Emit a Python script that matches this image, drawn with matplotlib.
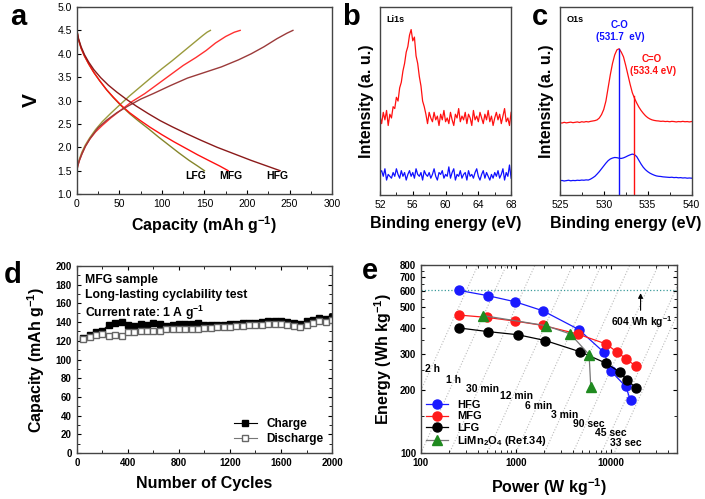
import matplotlib
matplotlib.use("Agg")
import matplotlib.pyplot as plt
from matplotlib.ticker import MultipleLocator, FixedLocator, FixedFormatter, NullFormatter, LogLocator
import numpy as np

plt.rcParams['font.family'] = ['Liberation Sans', 'DejaVu Sans']
plt.rcParams['mathtext.fontset'] = 'custom'
plt.rcParams['mathtext.rm'] = 'Liberation Sans:bold'
plt.rcParams['mathtext.bf'] = 'Liberation Sans:bold'
plt.rcParams['mathtext.default'] = 'bf'
plt.rcParams['xtick.direction'] = 'in'
plt.rcParams['ytick.direction'] = 'in'

# ---- panel a : charge / discharge curves
lfg_ch_cap = [0, 1, 3, 6, 10, 15, 22, 30, 40, 50, 62, 75, 88, 100, 112, 122, 132, 140, 148, 153, 157]
lfg_ch_v = [1.5, 1.62, 1.75, 1.9, 2.05, 2.2, 2.38, 2.55, 2.73, 2.9, 3.1, 3.3, 3.5, 3.68, 3.85, 4.0,
            4.15, 4.27, 4.39, 4.46, 4.5]
mfg_ch_cap = [0, 1, 3, 6, 10, 15, 22, 30, 40, 52, 65, 80, 95, 110, 125, 140, 152, 163, 175, 185, 192]
mfg_ch_v = [1.5, 1.6, 1.72, 1.86, 2.02, 2.17, 2.33, 2.47, 2.63, 2.8, 2.98, 3.15, 3.35, 3.55, 3.75,
            3.92, 4.07, 4.23, 4.37, 4.46, 4.5]
hfg_ch_cap = [0, 1, 3, 6, 10, 16, 25, 35, 47, 60, 75, 90, 110, 130, 150, 170, 190, 205, 220, 235, 247, 254]
hfg_ch_v = [1.5, 1.6, 1.72, 1.86, 2.02, 2.2, 2.42, 2.58, 2.74, 2.88, 3.03, 3.15, 3.32, 3.48, 3.6,
            3.72, 3.87, 4.0, 4.15, 4.32, 4.44, 4.5]
lfg_dc_cap = [0, 2, 5, 9, 14, 20, 27, 35, 43, 52, 62, 72, 84, 96, 108, 120, 132, 142, 150]
lfg_dc_v = [4.5, 4.3, 4.12, 3.95, 3.78, 3.6, 3.42, 3.23, 3.06, 2.89, 2.72, 2.57, 2.4, 2.22, 2.05,
            1.88, 1.72, 1.6, 1.5]
mfg_dc_cap = [0, 2, 5, 9, 14, 20, 27, 35, 43, 52, 62, 74, 86, 100, 114, 128, 142, 156, 168, 178]
mfg_dc_v = [4.5, 4.3, 4.12, 3.95, 3.78, 3.6, 3.42, 3.23, 3.07, 2.9, 2.74, 2.58, 2.43, 2.27, 2.12,
            1.98, 1.84, 1.71, 1.6, 1.5]
hfg_dc_cap = [0, 2, 5, 9, 14, 20, 28, 37, 47, 58, 70, 84, 98, 112, 128, 146, 165, 185, 205, 222, 239]
hfg_dc_v = [4.5, 4.32, 4.15, 3.98, 3.82, 3.66, 3.49, 3.33, 3.18, 3.03, 2.88, 2.72, 2.57, 2.44, 2.3,
            2.15, 2.0, 1.86, 1.72, 1.61, 1.5]

# ---- panel b : Li1s
li_energy = np.linspace(52, 68, 81)
li_red = [0.42, 0.38, 0.44, 0.40, 0.45, 0.37, 0.43, 0.41, 0.47, 0.46,
          0.52, 0.50, 0.57, 0.60, 0.66, 0.70, 0.76, 0.79, 0.85, 0.88,
          0.82, 0.84, 0.74, 0.70, 0.63, 0.58, 0.50, 0.47, 0.43, 0.38,
          0.44, 0.41, 0.39, 0.44, 0.40, 0.42, 0.37, 0.43, 0.40, 0.45,
          0.39, 0.41, 0.38, 0.44, 0.40, 0.37, 0.43, 0.41, 0.46, 0.39,
          0.42, 0.40, 0.44, 0.38, 0.43, 0.41, 0.37, 0.45, 0.40, 0.42,
          0.39, 0.44, 0.41, 0.38, 0.43, 0.40, 0.45, 0.39, 0.42, 0.37,
          0.41, 0.44, 0.40, 0.43, 0.38, 0.42, 0.46, 0.39, 0.41, 0.37, 0.44]
li_blue = [0.12, 0.13, 0.10, 0.14, 0.08, 0.11, 0.10, 0.09, 0.12, 0.10,
           0.14, 0.11, 0.09, 0.13, 0.10, 0.12, 0.08, 0.11, 0.13, 0.10,
           0.12, 0.09, 0.14, 0.11, 0.10, 0.12, 0.08, 0.13, 0.11, 0.10,
           0.12, 0.09, 0.11, 0.14, 0.10, 0.08, 0.12, 0.11, 0.13, 0.09,
           0.11, 0.10, 0.15, 0.09, 0.12, 0.14, 0.08, 0.11, 0.10, 0.13,
           0.09, 0.11, 0.12, 0.08, 0.13, 0.10, 0.11, 0.09, 0.12, 0.14,
           0.10, 0.08, 0.11, 0.13, 0.09, 0.12, 0.10, 0.08, 0.11, 0.09,
           0.12, 0.10, 0.13, 0.09, 0.11, 0.14, 0.08, 0.12, 0.10, 0.16, 0.09]

# ---- panel c : O1s
o_energy = np.linspace(525, 540, 61)
o_red = [0.385, 0.383, 0.387, 0.384, 0.386, 0.388, 0.385, 0.387, 0.389, 0.386,
         0.390, 0.388, 0.391, 0.389, 0.392, 0.394, 0.396, 0.400, 0.410, 0.428,
         0.455, 0.500, 0.570, 0.640, 0.700, 0.745, 0.772, 0.778, 0.760, 0.735,
         0.690, 0.640, 0.590, 0.545, 0.515, 0.490, 0.468, 0.450, 0.435, 0.422,
         0.412, 0.405, 0.400, 0.397, 0.395, 0.394, 0.392, 0.393, 0.391, 0.392,
         0.390, 0.392, 0.391, 0.389, 0.391, 0.390, 0.392, 0.390, 0.391, 0.389, 0.391]
o_blue = [0.076, 0.078, 0.075, 0.077, 0.079, 0.076, 0.078, 0.077, 0.079, 0.078,
          0.080, 0.079, 0.081, 0.080, 0.085, 0.092, 0.100, 0.112, 0.125, 0.140,
          0.155, 0.170, 0.183, 0.192, 0.197, 0.200, 0.199, 0.196, 0.195, 0.198,
          0.203, 0.209, 0.214, 0.218, 0.215, 0.205, 0.185, 0.165, 0.148, 0.135,
          0.125, 0.117, 0.111, 0.106, 0.102, 0.100, 0.099, 0.097, 0.096, 0.095,
          0.094, 0.095, 0.093, 0.094, 0.092, 0.093, 0.091, 0.092, 0.090, 0.091, 0.090]
co_peak = 531.7
cdo_peak = 533.4

# ---- panel d : cycling
cycles = np.arange(50, 2001, 50)
charge = [123, 126, 129, 131, 137, 139, 140, 137, 136, 138, 137, 139, 138, 136, 137,
          138, 138, 138, 139, 137, 137, 137, 137, 138, 138, 139, 139, 139, 140, 141,
          141, 141, 140, 139, 138, 141, 142, 144, 143, 145]
discharge = [122, 124, 126, 127, 125, 126, 125, 129, 129, 130, 130, 131, 131, 133, 133,
             133, 133, 133, 133, 134, 134, 135, 135, 135, 136, 136, 137, 137, 137, 138,
             138, 138, 137, 136, 135, 137, 139, 141, 140, 142]

# ---- panel e : Ragone
hfg_p = [252, 507, 995, 1937, 4625, 8490, 10160, 14420, 16300]
hfg_e = [604, 570, 532, 482, 392, 305, 247, 209, 179]
mfg_p = [250, 499, 995, 1937, 4508, 8990, 11770, 14660, 18530]
mfg_e = [460, 448, 430, 410, 373, 334, 305, 283, 261]
lfg_p = [250, 511, 1054, 2051, 4820, 8990, 12640, 14760, 18710]
lfg_e = [399, 383, 370, 347, 306, 270, 244, 225, 205]
lmo_p = [457, 2083, 3774, 5943, 6191]
lmo_e = [457, 409, 373, 297, 207]
time_h = [2, 1, 0.5, 0.2, 0.1, 0.05, 0.025, 0.0125, 33 / 3600]
time_labels = ['2 h', '1 h', '30 min', '12 min', '6 min', '3 min', '90 sec', '45 sec', '33 sec']
label_p = [133, 223, 450, 1028, 1746, 3258, 5902, 10000, 14660]
label_e = [254, 225, 203, 187, 169, 152, 138, 125, 112]

fig = plt.figure(figsize=(7.05, 4.99), dpi=100)
tick_fs = 7.5
lab_fs = 11.5

def frame(ax):
    for s in ax.spines.values():
        s.set_linewidth(1.0)
        s.set_color('#444444')

# a
ax = fig.add_axes([0.109, 0.611, 0.362, 0.375])
ax.plot(lfg_ch_cap, lfg_ch_v, color='#9a9a3c', lw=1)
ax.plot(lfg_dc_cap, lfg_dc_v, color='#85852a', lw=1)
ax.plot(mfg_ch_cap, mfg_ch_v, color='#ff3030', lw=1)
ax.plot(mfg_dc_cap, mfg_dc_v, color='#ff1010', lw=1)
ax.plot(hfg_ch_cap, hfg_ch_v, color='#9b3a3a', lw=1)
ax.plot(hfg_dc_cap, hfg_dc_v, color='#8b1a1a', lw=1)
for lab, xx in zip(['LFG', 'MFG', 'HFG'], [140, 181, 235]):
    ax.text(xx, 1.38, lab, ha='center', va='center', fontsize=7.5, fontweight='bold')
ax.set_xlim(0, 300)
ax.set_ylim(1.0, 5.0)
ax.xaxis.set_major_locator(MultipleLocator(50))
ax.xaxis.set_minor_locator(MultipleLocator(25))
ax.yaxis.set_major_locator(MultipleLocator(0.5))
ax.yaxis.set_major_formatter(plt.FormatStrFormatter('%.1f'))
ax.tick_params(labelsize=tick_fs, length=3)
ax.tick_params(which='minor', length=2)
ax.set_xlabel('Capacity (mAh g$^{-1}$)', fontsize=lab_fs, fontweight='bold', labelpad=4)
ax.set_ylabel('V', fontsize=15, fontweight='bold', labelpad=12)
frame(ax)

# b
ax = fig.add_axes([0.539, 0.609, 0.186, 0.377])
ax.plot(li_energy, li_red, color='#ff1010', lw=0.9)
ax.plot(li_energy, li_blue, color='#1010ff', lw=0.9)
ax.set_xlim(52, 68)
ax.set_ylim(0, 1)
ax.xaxis.set_major_locator(MultipleLocator(4))
ax.xaxis.set_minor_locator(MultipleLocator(2))
ax.set_yticks([])
ax.tick_params(labelsize=tick_fs, length=3)
ax.tick_params(which='minor', length=2)
ax.text(0.05, 0.96, 'Li1s', transform=ax.transAxes, fontsize=6.5, fontweight='bold', va='top')
ax.set_xlabel('Binding energy (eV)', fontsize=lab_fs, fontweight='bold', labelpad=4)
ax.set_ylabel('Intensity (a. u.)', fontsize=lab_fs, fontweight='bold', labelpad=4)
frame(ax)

# c
ax = fig.add_axes([0.794, 0.609, 0.187, 0.377])
ax.plot(o_energy, o_red, color='#ff1010', lw=0.9)
ax.plot(o_energy, o_blue, color='#1010ff', lw=0.9)
ax.plot([co_peak, co_peak], [0, max(o_red)], color='#1010ff', lw=1)
ax.plot([cdo_peak, cdo_peak], [0, 0.525], color='#ff1010', lw=1)
ax.text(531.8, 0.905, 'C-O', color='#1010ff', ha='center', va='center', fontsize=7, fontweight='bold')
ax.text(531.9, 0.84, '(531.7  eV)', color='#1010ff', ha='center', va='center', fontsize=7, fontweight='bold')
ax.text(535.5, 0.725, 'C=O', color='#ff1010', ha='center', va='center', fontsize=7, fontweight='bold')
ax.text(535.6, 0.66, '(533.4 eV)', color='#ff1010', ha='center', va='center', fontsize=7, fontweight='bold')
ax.text(0.05, 0.96, 'O1s', transform=ax.transAxes, fontsize=6.5, fontweight='bold', va='top')
ax.set_xlim(525, 540)
ax.set_ylim(0, 1)
ax.xaxis.set_major_locator(MultipleLocator(5))
ax.xaxis.set_minor_locator(MultipleLocator(2.5))
ax.set_yticks([])
ax.tick_params(labelsize=tick_fs, length=3)
ax.tick_params(which='minor', length=2)
ax.set_xlabel('Binding energy (eV)', fontsize=lab_fs, fontweight='bold', labelpad=4)
ax.set_ylabel('Intensity (a. u.)', fontsize=lab_fs, fontweight='bold', labelpad=4)
frame(ax)

# d
ax = fig.add_axes([0.109, 0.092, 0.362, 0.375])
ax.plot(cycles, charge, color='black', lw=0.8, marker='s', ms=5, mfc='black', mec='black', label='Charge')
ax.plot(cycles, discharge, color='#777777', lw=0.8, marker='s', ms=5, mfc='white', mec='#666666', label='Discharge')
ax.set_xlim(0, 2000)
ax.set_ylim(0, 200)
ax.xaxis.set_major_locator(MultipleLocator(400))
ax.xaxis.set_minor_locator(MultipleLocator(200))
ax.yaxis.set_major_locator(MultipleLocator(20))
ax.yaxis.set_minor_locator(MultipleLocator(10))
ax.tick_params(labelsize=7, length=3, top=True, right=True)
ax.tick_params(which='minor', length=2, top=True, right=True)
for t in ax.get_xticklabels() + ax.get_yticklabels():
    t.set_fontweight('bold')
ax.text(0.03, 0.955, 'MFG sample\nLong-lasting cyclability test\nCurrent rate: 1 A g$^{-1}$',
        transform=ax.transAxes, fontsize=8.8, fontweight='bold', va='top', linespacing=1.25)
ax.legend(loc='lower right', frameon=False, prop={'weight': 'bold', 'size': 8.5},
          handlelength=2.0, borderaxespad=0.3, labelspacing=0.25)
ax.set_xlabel('Number of Cycles', fontsize=lab_fs, fontweight='bold', labelpad=6)
ax.set_ylabel('Capacity (mAh g$^{-1}$)', fontsize=lab_fs, fontweight='bold', labelpad=6)
frame(ax)

# e
ax = fig.add_axes([0.597, 0.092, 0.363, 0.377])
ax.set_xscale('log')
ax.set_yscale('log')
pp = np.array([100, 60000])
for t in time_h:
    ax.plot(pp, pp * t, color='#bbbbbb', ls=':', lw=0.8, zorder=1)
for lab, xx, yy in zip(time_labels, label_p, label_e):
    ax.text(xx, yy, lab, ha='center', va='center', fontsize=7.5, fontweight='bold')
ax.axhline(604, color='#3a9a9a', ls=':', lw=0.9)
ax.annotate('', xy=(20750, 604), xytext=(20750, 470),
            arrowprops=dict(arrowstyle='-|>', color='black', lw=0.8, mutation_scale=7))
ax.text(21600, 425, '604 Wh kg$^{-1}$', ha='center', va='center', fontsize=7.5, fontweight='bold')
ax.plot(hfg_p, hfg_e, color='#1a1aff', lw=0.9, marker='o', ms=6.5, label='HFG', zorder=3)
ax.plot(mfg_p, mfg_e, color='#ff1a1a', lw=0.9, marker='o', ms=6.5, label='MFG', zorder=3)
ax.plot(lfg_p, lfg_e, color='black', lw=0.9, marker='o', ms=6.5, label='LFG', zorder=3)
ax.plot(lmo_p, lmo_e, color='#777777', lw=0.9, marker='^', ms=6.5, mfc='#1f8a1f', mec='#1f8a1f',
        label='LiMn$_2$O$_4$ (Ref.34)', zorder=4)
ax.set_xlim(100, 50000)
ax.set_ylim(100, 800)
ax.xaxis.set_major_locator(FixedLocator([100, 1000, 10000]))
ax.xaxis.set_major_formatter(FixedFormatter(['100', '1000', '10000']))
ax.xaxis.set_minor_locator(LogLocator(base=10, subs=np.arange(2, 10)))
ax.xaxis.set_minor_formatter(NullFormatter())
ax.yaxis.set_major_locator(FixedLocator([100, 200, 300, 400, 500, 600, 700, 800]))
ax.yaxis.set_major_formatter(FixedFormatter(['100', '200', '300', '400', '500', '600', '700', '800']))
ax.yaxis.set_minor_locator(FixedLocator([150, 250, 350, 450, 550, 650, 750]))
ax.yaxis.set_minor_formatter(NullFormatter())
ax.tick_params(labelsize=7, length=3, top=True, right=True)
ax.tick_params(which='minor', length=2, top=True, right=True)
for t in ax.get_xticklabels() + ax.get_yticklabels():
    t.set_fontweight('bold')
ax.legend(loc='lower left', frameon=False, prop={'weight': 'bold', 'size': 8},
          handlelength=2.0, borderaxespad=0.15, labelspacing=0.12, borderpad=0.3)
ax.set_xlabel('Power (W kg$^{-1}$)', fontsize=lab_fs, fontweight='bold', labelpad=6)
ax.set_ylabel('Energy (Wh kg$^{-1}$)', fontsize=lab_fs, fontweight='bold', labelpad=4)
frame(ax)

for lab, xx, yy in [('a', 0.014, 0.95), ('b', 0.485, 0.95), ('c', 0.755, 0.95),
                    ('d', 0.005, 0.433), ('e', 0.513, 0.441)]:
    fig.text(xx, yy, lab, fontsize=21, fontweight='bold', va='baseline')

fig.savefig('out.png', dpi=100)
